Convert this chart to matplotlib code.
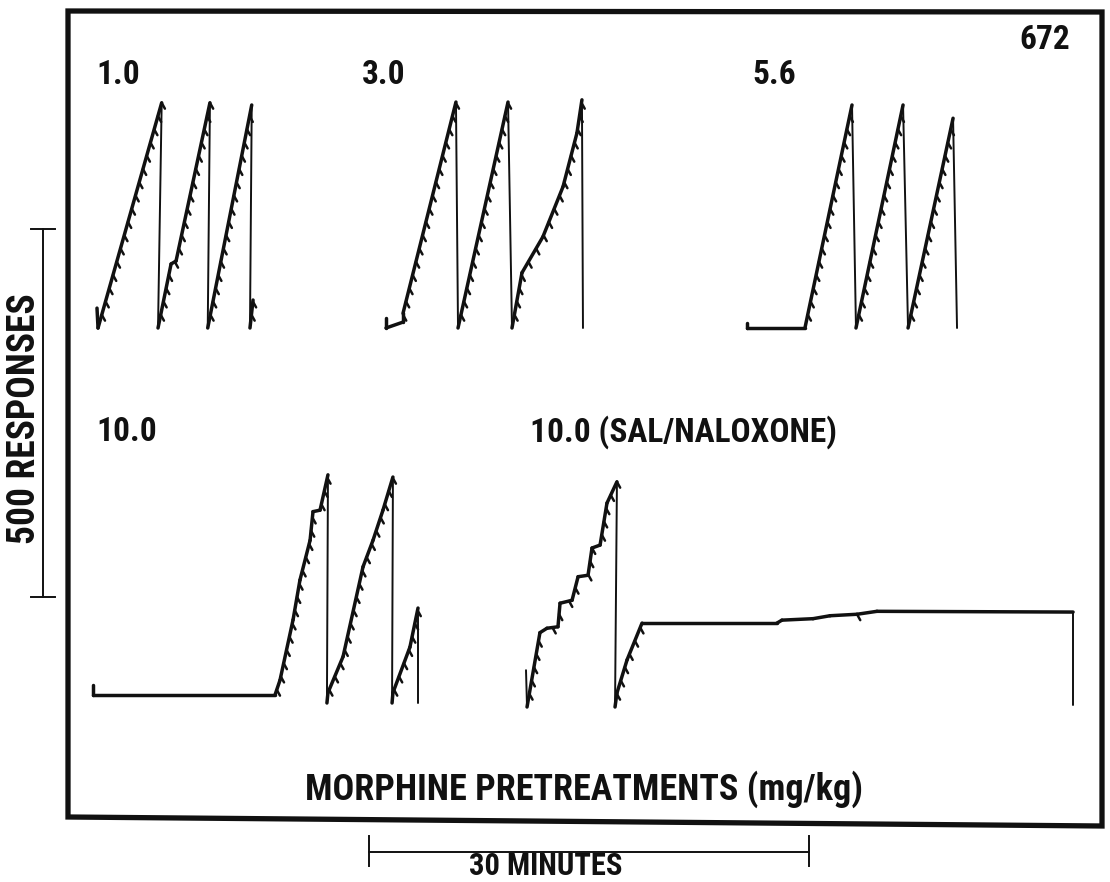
import numpy as np
import matplotlib
matplotlib.use("Agg")
import matplotlib.pyplot as plt
from matplotlib.collections import LineCollection
from matplotlib.patches import Polygon

# ---------------- data (minutes since record start, cumulative responses since pen reset)
p1_t = [0.00, 0.07, 4.41, 4.16, 5.05, 5.39, 7.70, 7.55, 10.55, 10.43, 10.64]
p1_r = [27, 0, 306, 0, 87, 91, 306, 0, 303, 0, 38]

p2_t = [0.00, 0.00, 1.16, 1.16, 4.77, 4.91, 8.32, 8.59, 9.27, 10.70, 12.07, 13.02, 13.36, 13.43]
p2_r = [14, 0, 8, 20, 307, 0, 307, 0, 75, 124, 192, 265, 310, 0]

p3_t = [0.00, 0.00, 3.95, 7.16, 7.43, 10.64, 10.98, 14.05, 14.32]
p3_r = [7, 0, 0, 303, 0, 303, 0, 285, 0]

p4_t = [0.00, 0.00, 12.41, 12.75, 13.64, 14.11, 14.80, 15.00, 15.48, 16.02, 15.95, 16.02,
        17.05, 18.41, 19.09, 19.77, 20.45, 20.39, 20.45, 21.61, 22.16, 22.16]
p4_r = [24, 11, 11, 31, 113, 167, 221, 260, 262, 310, 0, 14,
        63, 185, 221, 262, 307, 0, 14, 76, 129, 0]

p5_t = [0.00, 0.07, 0.95, 1.43, 2.18, 2.32, 3.14, 3.55, 4.23, 4.50, 5.05, 5.52, 6.20, 6.07,
        6.20, 6.89, 7.91, 17.11, 17.45, 19.57, 20.73, 22.57, 23.93, 37.30, 37.30]
p5_r = [50, 0, 101, 107, 109, 141, 145, 177, 179, 216, 220, 277, 306, 0,
        19, 64, 114, 114, 118, 120, 124, 126, 130, 129, 3]

labels = ["1.0", "3.0", "5.6", "10.0", "10.0 (SAL/NALOXONE)"]
records = [(p1_t, p1_r), (p2_t, p2_r), (p3_t, p3_r), (p4_t, p4_r), (p5_t, p5_r)]
subject_id = "672"
x_title = "MORPHINE PRETREATMENTS (mg/kg)"
resp_bar_label = "500 RESPONSES"
time_bar_label = "30 MINUTES"
resp_bar_value = 500
time_bar_value = 30
pip_every = 18  # responses between event pips

# ---------------- layout
W, H = 1110, 882
PX_PER_MIN = 440 / 30
PX_PER_RESP = 368 / 500
origins = [(97, 328), (386, 328), (747, 328), (93, 703), (526, 707)]
label_pos = [(96, 75), (362, 75), (752, 75), (96, 432), (530, 432)]

FAM = ["Roboto Condensed", "Liberation Sans Narrow", "Roboto", "DejaVu Sans"]

fig = plt.figure(figsize=(W / 100, H / 100), dpi=100)
fig.patch.set_facecolor("white")

ax = fig.add_axes([0, 0, 1, 1])
ax.set_xlim(0, W / PX_PER_MIN)
ax.set_ylim(0, H / PX_PER_RESP)
ax.axis("off")

ox = fig.add_axes([0, 0, 1, 1])
ox.set_xlim(0, W)
ox.set_ylim(H, 0)
ox.axis("off")
ox.patch.set_alpha(0)

INK = "#111111"

for (t, r), (px0, py0) in zip(records, origins):
    t0 = px0 / PX_PER_MIN
    r0 = (H - py0) / PX_PER_RESP
    t = np.asarray(t, float) + t0
    r = np.asarray(r, float) + r0
    segs_up, segs_dn, pips = [], [], []
    for i in range(len(t) - 1):
        seg = [(t[i], r[i]), (t[i + 1], r[i + 1])]
        if r[i + 1] < r[i] - 30:
            segs_dn.append(seg)
        else:
            segs_up.append(seg)
            a, b = r[i] - r0, r[i + 1] - r0
            if b > a:
                k = np.arange(np.floor(a / pip_every) + 1, np.floor(b / pip_every) + 1) * pip_every
                for kk in k:
                    if kk < 12:
                        continue
                    f = (kk - a) / (b - a)
                    tt = t[i] + f * (t[i + 1] - t[i])
                    pips.append([(tt, kk + r0), (tt + 0.22, kk + r0 - 8)])
    ax.add_collection(LineCollection(segs_up, colors=INK, linewidths=2.5, capstyle="round", joinstyle="round"))
    ax.add_collection(LineCollection(segs_dn, colors=INK, linewidths=1.4, capstyle="round"))
    ax.add_collection(LineCollection(pips, colors=INK, linewidths=1.8, capstyle="round"))

# frame
ox.add_patch(Polygon([(68, 11), (1102, 12), (1102, 826), (68, 817)], closed=True,
                     fill=False, edgecolor=INK, lw=3.8, joinstyle="miter"))

# lettering
tk = dict(family=FAM, fontweight="bold", color=INK)
for lab, (lx, ly) in zip(labels, label_pos):
    ox.text(lx, ly, lab, fontsize=24, ha="left", va="center", **tk)
ox.text(1070, 40, subject_id, fontsize=24, ha="right", va="center", **tk)
ox.text(584, 789, x_title, fontsize=26, ha="center", va="center", **tk)

# response calibration bar
bx = 43
by_top = 597 - resp_bar_value * PX_PER_RESP
ox.plot([bx, bx], [597, by_top], color=INK, lw=1.4)
ox.plot([bx - 12, bx + 12], [by_top, by_top], color=INK, lw=1.4)
ox.plot([bx - 12, bx + 12], [597, 597], color=INK, lw=1.4)
ox.text(25, 419, resp_bar_label, fontsize=27, rotation=90, ha="center", va="center", **tk)

# time calibration bar
tx0 = 369
tx1 = tx0 + time_bar_value * PX_PER_MIN
ox.plot([tx0, tx1], [852, 852], color=INK, lw=1.4)
ox.plot([tx0, tx0], [836, 866], color=INK, lw=1.4)
ox.plot([tx1, tx1], [836, 866], color=INK, lw=1.4)
ox.text(546, 866, time_bar_label, fontsize=22, ha="center", va="center", **tk)

fig.savefig("out.png", dpi=100, facecolor="white")
